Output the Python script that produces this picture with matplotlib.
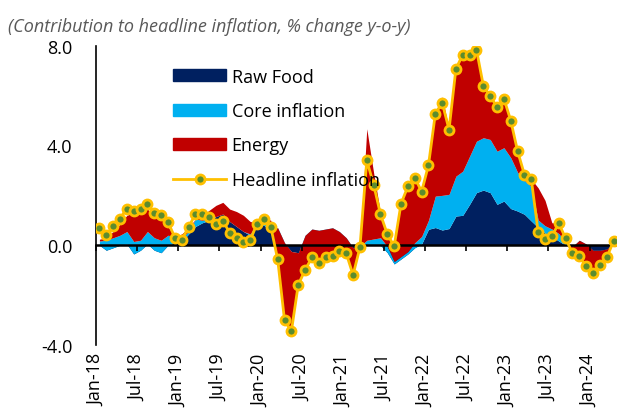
import numpy as np
import matplotlib.pyplot as plt
from matplotlib.lines import Line2D
from matplotlib.patches import Patch

plt.rcParams['font.family'] = ['Open Sans', 'DejaVu Sans']

# monthly contributions, Jan-18 .. Apr-24 (76 months)
headline = [0.68, 0.40, 0.77, 1.07, 1.47, 1.37, 1.47, 1.64, 1.31, 1.23, 0.93, 0.31,
            0.21, 0.73, 1.24, 1.24, 1.13, 0.84, 0.97, 0.51, 0.31, 0.11, 0.20, 0.87,
            1.04, 0.73, -0.56, -3.00, -3.45, -1.59, -0.99, -0.49, -0.72, -0.49, -0.43, -0.25,
            -0.33, -1.19, -0.09, 3.40, 2.43, 1.24, 0.44, -0.04, 1.67, 2.36, 2.71, 2.15,
            3.21, 5.27, 5.71, 4.64, 7.07, 7.64, 7.61, 7.84, 6.40, 5.97, 5.55, 5.88,
            5.00, 3.77, 2.83, 2.64, 0.53, 0.23, 0.36, 0.88, 0.28, -0.32, -0.45, -0.85,
            -1.13, -0.79, -0.49, 0.16]

raw_food = [0.00, -0.20, -0.10, 0.00, 0.05, -0.35, -0.20, 0.05, -0.20, -0.30, 0.00, 0.10,
            0.15, 0.45, 0.75, 0.90, 1.00, 1.15, 1.25, 0.95, 0.75, 0.55, 0.40, 0.75,
            0.80, 0.55, 0.40, 0.05, -0.25, -0.30, 0.20, 0.40, 0.35, 0.40, 0.45, 0.35,
            0.10, -0.10, -0.10, 0.00, 0.00, 0.00, -0.30, -0.75, -0.55, -0.35, -0.10, 0.05,
            0.64, 0.71, 0.61, 0.67, 1.17, 1.20, 1.64, 2.11, 2.21, 2.11, 1.64, 1.77,
            1.47, 1.37, 1.24, 0.97, 0.71, 0.48, 0.35, 0.17, 0.00, -0.05, 0.00, 0.00,
            -0.30, -0.30, -0.20, 0.10]

core = [0.17, 0.40, 0.40, 0.40, 0.50, 0.50, 0.40, 0.50, 0.50, 0.50, 0.40, 0.25,
        0.15, 0.10, 0.30, 0.10, 0.10, 0.00, 0.00, 0.00, 0.00, 0.00, 0.05, 0.15,
        0.20, 0.10, 0.30, 0.05, 0.00, 0.00, 0.20, 0.25, 0.25, 0.25, 0.25, 0.20,
        0.20, 0.00, 0.05, 0.20, 0.25, 0.30, 0.25, 0.10, 0.10, 0.10, 0.20, 0.30,
        0.36, 1.26, 1.39, 1.37, 1.60, 1.77, 1.93, 2.06, 2.10, 2.13, 2.13, 2.14,
        2.04, 1.55, 1.36, 1.38, 0.30, 0.30, 0.30, 0.30, 0.10, 0.00, 0.20, 0.05,
        0.10, 0.10, 0.05, 0.00]

energy = [0.07, 0.10, 0.25, 0.45, 0.65, 1.15, 1.15, 0.90, 0.90, 0.85, 0.35, 0.00,
          0.15, 0.15, 0.00, 0.20, 0.30, 0.45, 0.47, 0.50, 0.60, 0.65, 0.50, 0.00,
          0.10, 0.35, -1.26, -3.10, -3.20, -1.29, -1.39, -1.14, -1.32, -1.14, -1.13, -0.80,
          -0.63, -1.09, -0.04, 4.47, 2.65, 1.00, 0.45, 0.61, 2.12, 2.61, 2.61, 1.80,
          2.21, 3.38, 3.95, 2.60, 4.30, 4.67, 4.04, 3.67, 2.09, 1.73, 1.78, 1.97,
          1.49, 0.88, 0.25, 0.30, 1.29, 1.02, 0.25, 0.41, 0.18, -0.27, -0.65, -0.90,
          -0.93, -0.59, -0.34, 0.06]

tick_labels = ['Jan-18', 'Jul-18', 'Jan-19', 'Jul-19', 'Jan-20', 'Jul-20', 'Jan-21',
               'Jul-21', 'Jan-22', 'Jul-22', 'Jan-23', 'Jul-23', 'Jan-24']

navy = '#002060'
light_blue = '#00B0F0'
red = '#C00000'
gold = '#FFC000'
green = '#5B8C2E'

x = np.arange(len(headline)) + 0.5
rf = np.array(raw_food)
lvl1 = rf + np.array(core)
lvl2 = lvl1 + np.array(energy)

fig = plt.figure(figsize=(6.17, 4.14), dpi=100)
ax = fig.add_axes([96 / 617, 1 - 346 / 414, 521 / 617, 299.3 / 414])

# excel-style stacked areas
ax.fill_between(x, 0, rf, color=navy, lw=0)
ax.fill_between(x, rf, lvl1, color=light_blue, lw=0)
ax.fill_between(x, lvl1, lvl2, color=red, lw=0)
ax.plot(x, headline, color=gold, lw=2, marker='o', ms=6.5,
        mfc=green, mec=gold, mew=2, zorder=5)

ax.set_xlim(0, 76)
ax.set_ylim(-4, 8)
ax.set_yticks([-4, 0, 4, 8])
ax.set_yticklabels(['%.1f' % v for v in [-4, 0, 4, 8]])
ax.tick_params(axis='y', length=0, pad=17, labelsize=13)

ax.spines['top'].set_visible(False)
ax.spines['right'].set_visible(False)
ax.spines['left'].set_linewidth(1.2)
ax.spines['bottom'].set_position(('data', 0))
ax.spines['bottom'].set_linewidth(1.8)
ax.spines['bottom'].set_zorder(4)

ticks = np.arange(0, 73, 6)
ax.set_xticks(ticks)
ax.tick_params(axis='x', direction='out', length=4, width=1.2, labelbottom=False)

sec = ax.secondary_xaxis(0)
sec.set_xticks(ticks)
sec.set_xticklabels(tick_labels, rotation=90)
sec.tick_params(length=0, pad=6, labelsize=13)
sec.spines['bottom'].set_visible(False)

handles = [Patch(color=navy), Patch(color=light_blue), Patch(color=red),
           Line2D([], [], color=gold, lw=2, marker='o', ms=6.5, mfc=green, mec=gold, mew=2)]
labels = ['Raw Food', 'Core inflation', 'Energy', 'Headline inflation']
ax.legend(handles, labels, loc='upper left', bbox_to_anchor=(77 / 521, 0.927),
          frameon=False, fontsize=13, handlelength=2.95, handleheight=0.67,
          handletextpad=0.3, labelspacing=0.91, borderpad=0, borderaxespad=0)

fig.text(8 / 617, 1 - 27 / 414, '(Contribution to headline inflation, % change y-o-y)',
         style='italic', color='#595959', fontsize=13, va='center')

fig.savefig('out.png', dpi=100)
